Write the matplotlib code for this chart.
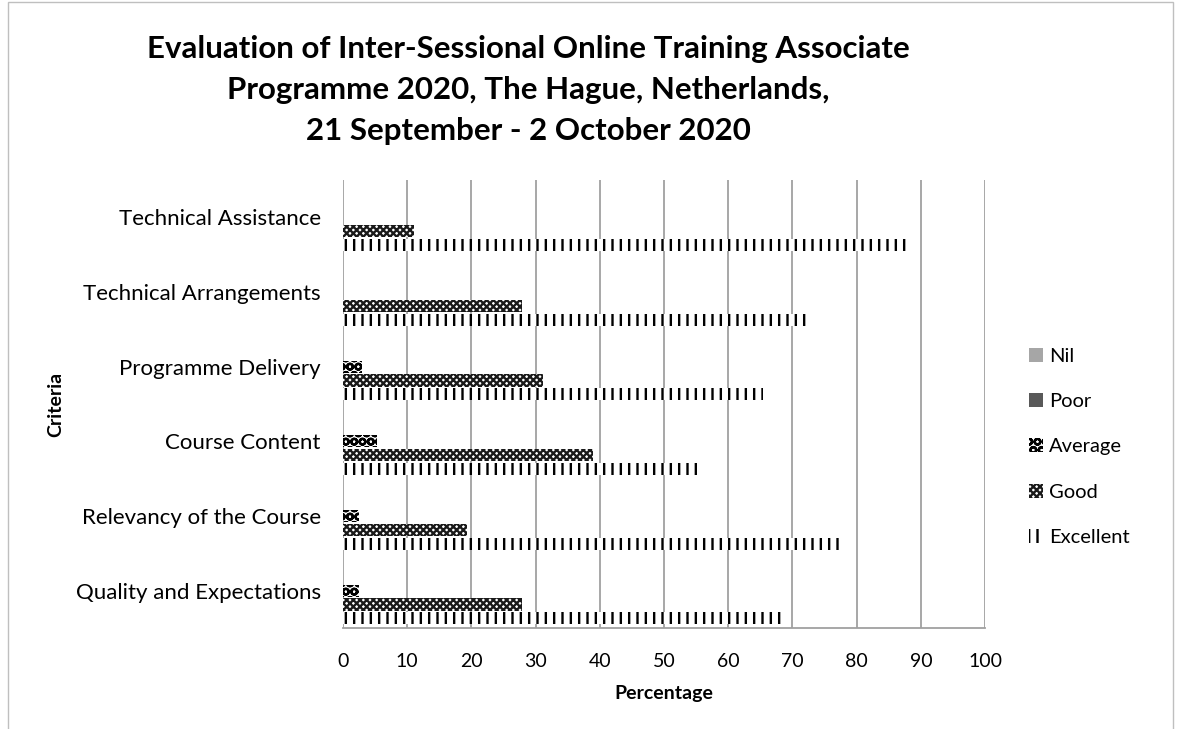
import matplotlib.pyplot as plt
import matplotlib.patches as mpatches
import numpy as np

plt.rcParams['font.family'] = ['Lato', 'DejaVu Sans']
plt.rcParams['hatch.linewidth'] = 1.7

# datos (porcentaje)
criteria = ['Quality and Expectations', 'Relevancy of the Course', 'Course Content',
            'Programme Delivery', 'Technical Arrangements', 'Technical Assistance']
nil = [0, 0, 0, 0, 0, 0]
poor = [0, 0, 0, 0, 0, 0]
average = [2.5, 2.5, 5.3, 2.9, 0, 0]
good = [27.8, 19.3, 38.9, 31.2, 27.8, 11.1]
excellent = [68.8, 77.9, 55.1, 65.4, 72.2, 88.5]

series = [('Nil', nil), ('Poor', poor), ('Average', average),
          ('Good', good), ('Excellent', excellent)]
styles = {
    'Nil': dict(color='#a6a6a6'),
    'Poor': dict(color='#595959'),
    'Average': dict(facecolor='white', edgecolor='black', hatch='OO'),
    'Good': dict(facecolor='white', edgecolor='#1a1a1a', hatch='xxxxx'),
    'Excellent': dict(facecolor='white', edgecolor='black', hatch='||'),
}

fig = plt.figure(figsize=(11.85, 7.29), dpi=100)
ax = fig.add_axes([0.2895, 0.1385, 0.5418, 0.6145])

y = np.arange(len(criteria))
h = 0.185
offsets = [2, 1, 0, -1, -2]
handles = []
for (name, vals), off in zip(series, offsets):
    ax.barh(y + off * h, vals, height=h * 0.88, linewidth=0, label=name, **styles[name])
    handles.append(mpatches.Patch(label=name, linewidth=0, **styles[name]))

ax.set_xlim(0, 100)
ax.set_ylim(-0.5, len(criteria) - 0.5)
ax.set_xticks(range(0, 101, 10))
ax.set_yticks(y)
ax.set_yticklabels(criteria, fontsize=16)
ax.tick_params(axis='x', labelsize=14, length=0, pad=18)
ax.tick_params(axis='y', length=0, pad=16)
ax.grid(axis='x', color='#a0a0a0', linewidth=1.3)
ax.set_axisbelow(True)
for s in ['top', 'right', 'left']:
    ax.spines[s].set_visible(False)
ax.spines['bottom'].set_color('#a0a0a0')
ax.spines['bottom'].set_linewidth(1.3)

ax.set_xlabel('Percentage', fontsize=14, fontweight='bold', labelpad=11)
fig.text(0.047, 0.445, 'Criteria', rotation=90, fontsize=14, fontweight='bold',
         ha='center', va='center')

fig.text(0.446, 0.952, 'Evaluation of Inter-Sessional Online Training Associate\n'
         'Programme 2020, The Hague, Netherlands,\n21 September - 2 October 2020',
         ha='center', va='top', fontsize=22.5, fontweight='bold', linespacing=1.57)

fig.legend(handles=handles, loc='center left', bbox_to_anchor=(0.853, 0.387),
           frameon=False, fontsize=14.5, handlelength=0.7, handleheight=0.7,
           handletextpad=0.3, labelspacing=1.4)

# borde del area del grafico
fig.patches.append(mpatches.Rectangle((0.007, -0.01), 0.983, 1.007, transform=fig.transFigure,
                                      fill=False, edgecolor='#bfbfbf', linewidth=1))

plt.savefig('out.png', dpi=100)
